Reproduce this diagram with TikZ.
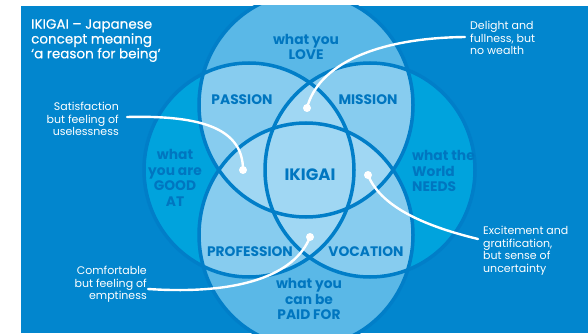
\documentclass[tikz,border=0pt]{standalone}
\usepackage{fontspec}
\setmainfont{Poppins}
\definecolor{bgblue}{RGB}{2,134,206}
\definecolor{cyanc}{RGB}{0,163,221}
\definecolor{loveb}{RGB}{90,184,231}
\definecolor{passb}{RGB}{135,204,239}
\definecolor{tripb}{RGB}{160,215,243}
\definecolor{txtb}{RGB}{0,118,192}
\definecolor{outc}{RGB}{1,126,200}
\begin{document}
\begin{tikzpicture}[x=1pt,y=-1pt,
  lbl/.style={text=txtb, font=\bfseries\fontsize{13.8}{15.5}\selectfont, align=center, inner sep=0pt},
  annot/.style={text=white, font=\fontsize{11}{12.5}\selectfont, inner sep=0pt},
  dotnode/.style={circle, fill=white, inner sep=0pt, minimum size=8pt},
  conn/.style={white, line width=2.4pt, line cap=round},
  outl/.style={draw=outc, line width=3.5pt}]
\useasboundingbox (0,0) rectangle (588,334);
\fill[white] (0,0) rectangle (588,334);
\begin{scope}
\clip (21,6) rectangle (588,333);
\fill[bgblue] (21,6) rectangle (588,333);
% single circles
\fill[cyanc] (249,170) ellipse [x radius=105pt, y radius=107pt];
\fill[cyanc] (370,170) ellipse [x radius=105pt, y radius=107pt];
\fill[loveb] (306,105) ellipse [x radius=107pt, y radius=112pt];
\fill[loveb] (306,235) ellipse [x radius=107pt, y radius=112pt];
% double overlaps
\begin{scope}
\clip (306,105) ellipse [x radius=107pt, y radius=112pt];
\fill[passb] (249,170) ellipse [x radius=105pt, y radius=107pt];
\fill[passb] (370,170) ellipse [x radius=105pt, y radius=107pt];
\end{scope}
\begin{scope}
\clip (306,235) ellipse [x radius=107pt, y radius=112pt];
\fill[passb] (249,170) ellipse [x radius=105pt, y radius=107pt];
\fill[passb] (370,170) ellipse [x radius=105pt, y radius=107pt];
\end{scope}
% triple overlaps
\begin{scope}
\clip (249,170) ellipse [x radius=105pt, y radius=107pt];
\clip (370,170) ellipse [x radius=105pt, y radius=107pt];
\fill[tripb] (306,105) ellipse [x radius=107pt, y radius=112pt];
\fill[tripb] (306,235) ellipse [x radius=107pt, y radius=112pt];
\end{scope}
\begin{scope}
\clip (306,105) ellipse [x radius=107pt, y radius=112pt];
\clip (306,235) ellipse [x radius=107pt, y radius=112pt];
\fill[tripb] (249,170) ellipse [x radius=105pt, y radius=107pt];
\fill[tripb] (370,170) ellipse [x radius=105pt, y radius=107pt];
\end{scope}
% outlines
\path[outl] (249,170) ellipse [x radius=105pt, y radius=107pt];
\path[outl] (370,170) ellipse [x radius=105pt, y radius=107pt];
\path[outl] (306,105) ellipse [x radius=107pt, y radius=112pt];
\path[outl] (306,235) ellipse [x radius=107pt, y radius=112pt];
\end{scope}
% title
\node[annot, anchor=north west, align=left, font=\fontsize{13.5}{14.8}\selectfont\addfontfeatures{FakeBold=0.4}] (title) at (31,19)
  {IKIGAI – Japanese\\concept meaning\\‘a reason for being’};
% circle labels
\node[lbl] (love) at (306,47) {what you\\LOVE};
\node[lbl] (good) at (175,178) {what\\you are\\GOOD\\AT};
\node[lbl, anchor=west, align=left] (needs) at (412,171) {what the\\World\\NEEDS};
\node[lbl] (paid) at (309,299) {what you\\can be\\PAID FOR};
\node[lbl] (passion) at (242,100) {PASSION};
\node[lbl] (mission) at (368,100) {MISSION};
\node[lbl] (profession) at (250,252) {PROFESSION};
\node[lbl] (vocation) at (366,252) {VOCATION};
\node[lbl, font=\bfseries\fontsize{16.5}{18}\selectfont] (ikigai) at (310,175) {IKIGAI};
% annotations
\node[annot, anchor=north west, align=left] (t1) at (470,21) {Delight and\\fullness, but\\no wealth};
\node[annot, anchor=north east, align=right] (t2) at (119,102) {Satisfaction\\but feeling of\\uselessness};
\node[annot, anchor=north west, align=left] (t3) at (483,226) {Excitement and\\gratification,\\but sense of\\uncertainty};
\node[annot, anchor=north east, align=right] (t4) at (147,266) {Comfortable\\but feeling of\\emptiness};
% dots
\node[dotnode] (d1) at (307,108) {};
\node[dotnode] (d2) at (243,170) {};
\node[dotnode] (d3) at (368,175) {};
\node[dotnode] (d4) at (310,237) {};
\coordinate (e1) at (465,37);
\coordinate (e2) at (127,117);
\coordinate (e3) at (478,239);
\coordinate (e4) at (148,289);
\draw[conn] (d1.center) .. controls (318,65) and (375,38) .. (e1);
\draw[conn] (e2) .. controls (205,115) and (243,130) .. (d2.center);
\draw[conn] (d3.center) .. controls (380,205) and (420,225) .. (e3);
\draw[conn] (e4) .. controls (240,295) and (295,275) .. (d4.center);
\end{tikzpicture}
\end{document}
